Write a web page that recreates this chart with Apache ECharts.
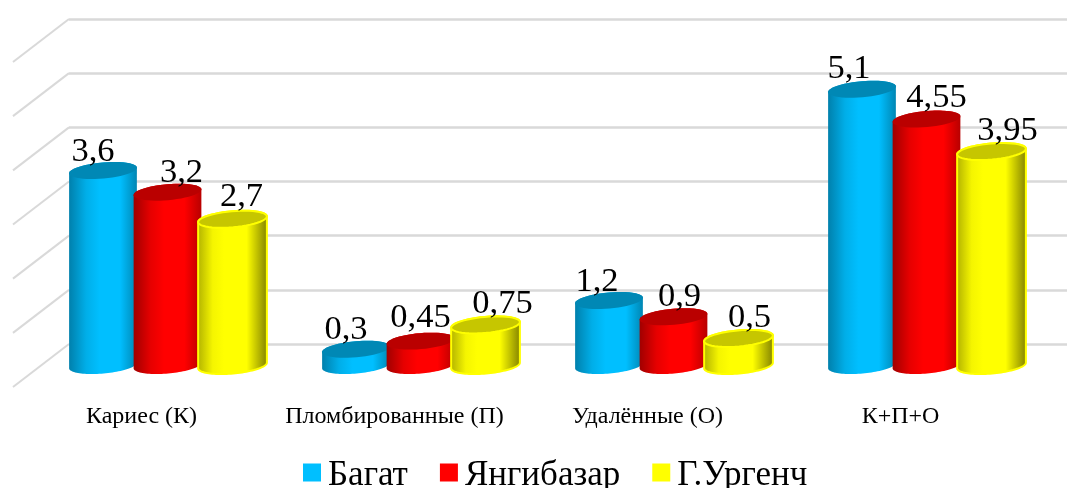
<!DOCTYPE html>
<html><head><meta charset="utf-8">
<style>html,body{margin:0;padding:0;background:#fff;overflow:hidden;width:1067px;height:488px}#c{width:1081px;height:488px}</style>
<script src="https://cdn.jsdelivr.net/npm/echarts@6/dist/echarts.min.js"></script>
</head><body><div id="c"></div>
<script>
var categories = ['Кариес (К)', 'Пломбированные (П)', 'Удалённые (О)', 'К+П+О'];
var seriesNames = ['Багат', 'Янгибазар', 'Г.Ургенч'];
var bagat = [3.6, 0.3, 1.2, 5.1];
var yangibazar = [3.2, 0.45, 0.9, 4.55];
var urgench = [2.7, 0.75, 0.5, 3.95];
var ticks = [0, 1, 2, 3, 4, 5, 6];

// label nudges (dx, dy) in pixels, per series / category
var nudgeX = [[-10, -10, -12, -13], [14, 0, 6, 10], [9, 17, 11, 16]];
var nudgeY = [[-8, -9, -8, -10], [-9, -12.6, -9, -10.5], [-12, -10, -10, -10]];

var faceColors = ['#00BFFF', '#FF0000', '#FFFF00'];
var topColors = ['#0088B5', '#BA0000', '#C6C600'];
var bodyStops = [
  [[0, '#0080AC'], [0.25, '#00AEE8'], [0.45, '#00BFFF'], [0.75, '#00BFFF'], [1, '#0086B3']],
  [[0, '#A00000'], [0.25, '#E60000'], [0.45, '#FF0000'], [0.75, '#FF0000'], [1, '#B80000']],
  [[0, '#B0B000'], [0.22, '#F5F500'], [0.38, '#FFFF00'], [0.7, '#FFFF00'], [1, '#808000']]
];
var valueSets = [bagat, yangibazar, urgench];

var DEPTH_X = -56, DEPTH_Y = 43;
var RX = [34, 34, 34.5], RY = 8, TILT = -5 * Math.PI / 180;

function ell(cx, cy, t, rx) {
  var a = rx * Math.cos(t), b = RY * Math.sin(t);
  return [cx + a * Math.cos(TILT) - b * Math.sin(TILT), cy + a * Math.sin(TILT) + b * Math.cos(TILT)];
}
function arc(cx, cy, from, to, rx) {
  var pts = [], n = 48;
  for (var i = 0; i <= n; i++) pts.push(ell(cx, cy, from + (to - from) * i / n, rx));
  return pts;
}

function cylinder(si) {
  return function (params, api) {
    var cat = api.value(0), val = api.value(1);
    var band = api.size([1, 0])[0];
    var base = api.coord([cat, 0]), top = api.coord([cat, val]);
    var cx = base[0] + DEPTH_X / 2 + (si - 1) * band * 0.255 + (si === 2 ? 0.5 : 0);
    var by = base[1] + DEPTH_Y / 2, ty = top[1] + DEPTH_Y / 2;
    var rx = RX[si];
    var stroke = si === 2 ? '#FFFF00' : null, lw = si === 2 ? 2 : 0;
    var bodyPts = arc(cx, by, 0, Math.PI, rx).concat(arc(cx, ty, Math.PI, 2 * Math.PI, rx));
    var stops = bodyStops[si].map(function (s) { return { offset: s[0], color: s[1] }; });
    return {
      type: 'group',
      children: [
        { type: 'polygon', shape: { points: bodyPts },
          style: { fill: { type: 'linear', x: 0, y: 0, x2: 1, y2: 0, colorStops: stops }, stroke: stroke, lineWidth: lw } },
        { type: 'polygon', shape: { points: arc(cx, ty, 0, 2 * Math.PI, rx) },
          style: { fill: topColors[si], stroke: stroke, lineWidth: lw } },
        { type: 'text', z2: 100,
          style: { x: cx + nudgeX[si][cat], y: ty + nudgeY[si][cat] + 7,
            text: String(val).replace('.', ','), align: 'center', verticalAlign: 'bottom',
            font: '34.5px "Liberation Serif"', fill: '#000' } }
      ]
    };
  };
}

var series = [{
  type: 'custom', name: 'slant', silent: true, z: 1,
  data: ticks.map(function (t) { return [t]; }),
  encode: { y: 0 },
  renderItem: function (params, api) {
    var p = api.coord([0, api.value(0)]);
    var x0 = params.coordSys.x;
    return { type: 'line', shape: { x1: x0, y1: p[1], x2: x0 + DEPTH_X, y2: p[1] + DEPTH_Y },
      style: { stroke: '#D9D9D9', lineWidth: 2 } };
  }
}];
seriesNames.forEach(function (name, si) {
  series.push({
    type: 'custom', name: name, z: 5 + si,
    itemStyle: { color: faceColors[si] },
    data: valueSets[si].map(function (v, i) { return [i, v]; }),
    encode: { x: 0, y: 1 },
    renderItem: cylinder(si),
    clip: false
  });
});

var chart = echarts.init(document.getElementById('c'), null, { renderer: 'canvas' });
chart.setOption({
  animation: false,
  backgroundColor: '#fff',
  grid: { left: 69, top: 19, width: 1012, height: 325, containLabel: false },
  xAxis: {
    type: 'category', data: categories,
    axisLine: { show: false }, axisTick: { show: false },
    axisLabel: { margin: 61, padding: [0, 108, 0, 0], fontFamily: 'Liberation Serif', fontSize: 24, color: '#000', interval: 0, hideOverlap: false }
  },
  yAxis: {
    type: 'value', min: 0, max: 6, interval: 1,
    axisLine: { show: false }, axisTick: { show: false }, axisLabel: { show: false },
    splitLine: { lineStyle: { color: '#D9D9D9', width: 2.5 } }
  },
  legend: {
    data: seriesNames, icon: 'path://M0,0H18V18H0Z M0,24H18', left: 303, top: 458, itemWidth: 18, itemHeight: 24, itemGap: 32,
    padding: 0,
    textStyle: { fontFamily: 'Liberation Serif', fontSize: 35, color: '#000', padding: [0, 0, 0, 2] }
  },
  series: series
});
</script></body></html>
